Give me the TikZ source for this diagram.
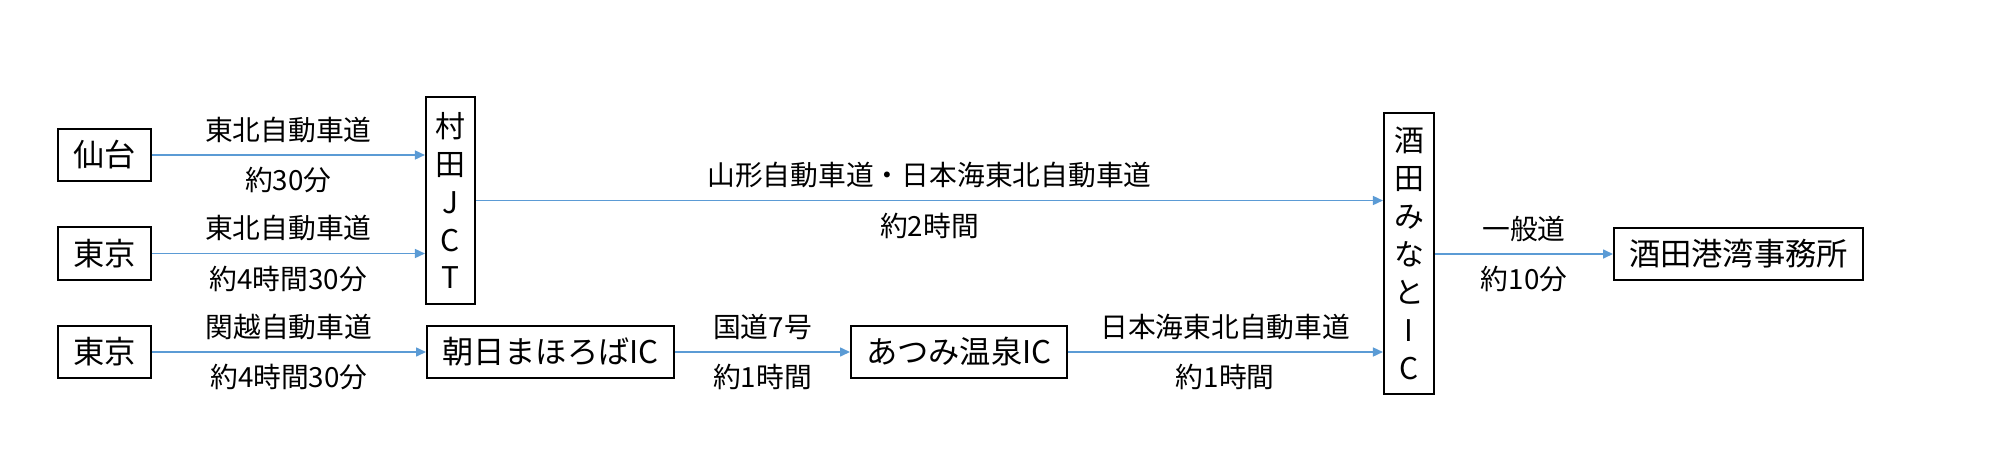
\documentclass[tikz,border=0pt]{standalone}
\usepackage{fontspec}
\setmainfont{Noto Sans CJK JP}
\usepackage{xcolor}
\usepackage{tikz}
\usetikzlibrary{arrows.meta}
\definecolor{roadblue}{RGB}{91,155,213}

\begin{document}
\begin{tikzpicture}[>={Triangle[length=0.1cm,width=0.09cm]},
box/.style={draw,line width=0.6pt,minimum height=0.52cm,inner xsep=0.15cm,font=\fontsize{8.9}{10.8}\selectfont},
vbox/.style={draw,line width=0.6pt,align=center,inner xsep=0.08cm,minimum width=0.49cm,font=\fontsize{8.5}{10.8}\selectfont},
road/.style={draw=roadblue,line width=0.45pt,->},
lbl/.style={font=\fontsize{7.9}{9.5}\selectfont}]
\useasboundingbox (0,0) rectangle (20,4.64);
% start points
\node[box] (sendai) at (1.045,3.09) {仙台};
\node[box] (tokyoA) at (1.045,2.105) {東京};
\node[box] (tokyoB) at (1.045,1.12) {東京};
% junctions
\node[vbox,minimum height=2.07cm] (jct) at (4.505,2.635) {村\\田\\J\\C\\T};
\node[box,anchor=west] (asahi) at (4.26,1.12) {朝日まほろばIC};
\node[box,anchor=west] (atsumi) at (8.50,1.12) {あつみ温泉IC};
\node[vbox,minimum height=2.81cm,minimum width=0.50cm] (minato) at (14.09,2.105) {酒\\田\\み\\な\\と\\I\\C};
\node[box,anchor=west] (office) at (16.13,2.10) {酒田港湾事務所};
% roads
\draw[road] (sendai) -- (sendai -| jct.west)
node[lbl,midway,above]{東北自動車道}
node[lbl,midway,below]{約30分};
\draw[road] (tokyoA) -- (tokyoA -| jct.west)
node[lbl,midway,above]{東北自動車道}
node[lbl,midway,below]{約4時間30分};
\draw[road] (tokyoB) -- (asahi)
node[lbl,midway,above]{関越自動車道}
node[lbl,midway,below]{約4時間30分};
\draw[road] (jct) -- (jct -| minato.west)
node[lbl,midway,above]{山形自動車道・日本海東北自動車道}
node[lbl,midway,below]{約2時間};
\draw[road] (asahi) -- (atsumi)
node[lbl,midway,above]{国道7号}
node[lbl,midway,below]{約1時間};
\draw[road] (atsumi) -- (atsumi -| minato.west)
node[lbl,midway,above]{日本海東北自動車道}
node[lbl,midway,below]{約1時間};
\draw[road] (minato.east |- office) -- (office)
node[lbl,midway,above]{一般道}
node[lbl,midway,below]{約10分};
\end{tikzpicture}
\end{document}
